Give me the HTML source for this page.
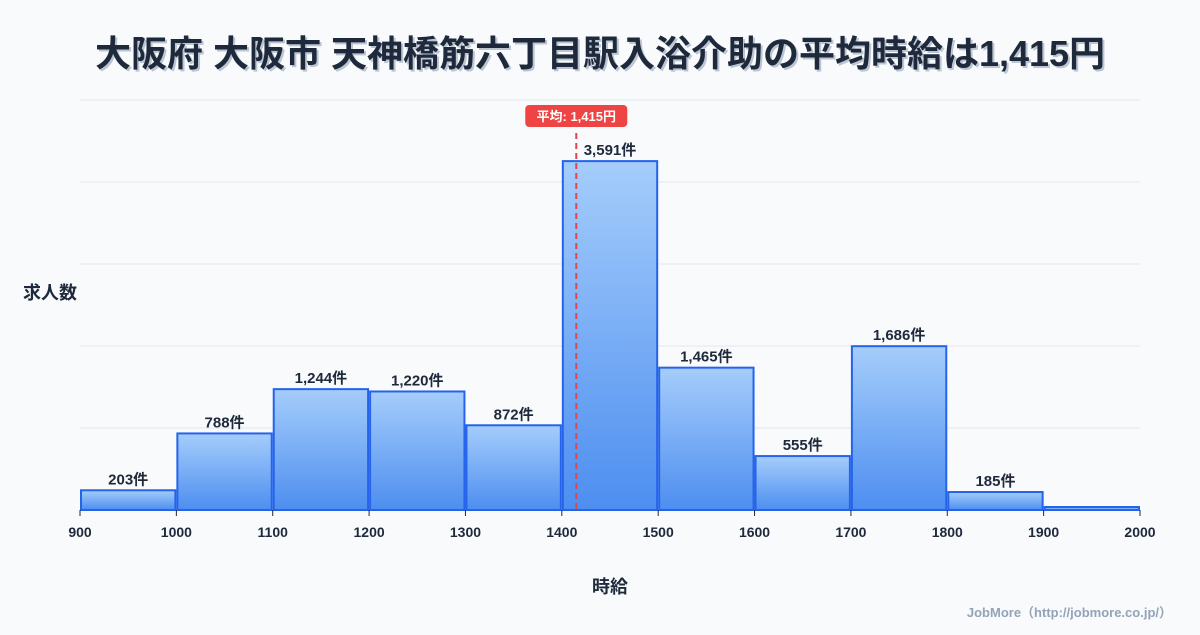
<!DOCTYPE html>
<html><head><meta charset="utf-8"><style>
body{margin:0;background:#f8fafc;font-family:"Liberation Sans","Noto Sans CJK JP",sans-serif;}
svg text{font-family:"Liberation Sans","Noto Sans CJK JP",sans-serif;}
</style></head><body>
<svg id="c" width="1200" height="630" viewBox="0 0 1200 630">
<defs><linearGradient id="g" x1="0" y1="0" x2="0" y2="1"><stop offset="0" stop-color="#a5cdfb"/><stop offset="1" stop-color="#4d8ef0"/></linearGradient></defs>
<rect width="1200" height="630" fill="#f8fafc"/>
<text x="602" y="68" text-anchor="middle" font-size="36" font-weight="bold" fill="#94a3b8" opacity="0.6">大阪府 大阪市 天神橋筋六丁目駅入浴介助の平均時給は1,415円</text>
<text x="600" y="66" text-anchor="middle" font-size="36" font-weight="bold" fill="#1e293b">大阪府 大阪市 天神橋筋六丁目駅入浴介助の平均時給は1,415円</text>
<g id="grid"></g><g id="bars"></g><g id="xt"></g>
<text x="50" y="299" text-anchor="middle" font-size="18" font-weight="bold" fill="#1e293b">求人数</text>
<text x="610" y="593" text-anchor="middle" font-size="18" font-weight="bold" fill="#1e293b">時給</text>
<text x="1172" y="617" text-anchor="end" font-size="13" font-weight="bold" fill="#94a3b8">JobMore（http://jobmore.co.jp/）</text>
</svg>
<script>
const binStarts=[900,1000,1100,1200,1300,1400,1500,1600,1700,1800,1900];
const counts=[203,788,1244,1220,872,3591,1465,555,1686,185,30];
const showLabel=[true,true,true,true,true,true,true,true,true,true,false];
const xTicks=[900,1000,1100,1200,1300,1400,1500,1600,1700,1800,1900,2000];
const avgValue=1415;
const NS="http://www.w3.org/2000/svg";
const X0=80,X1=1140,XMIN=900,XMAX=2000,Y0=510,Y1=100,YMAX=4220;
const xs=v=>X0+(v-XMIN)/(XMAX-XMIN)*(X1-X0);
const ys=v=>Y0-v/YMAX*(Y0-Y1);
function mk(t,a,p){const e=document.createElementNS(NS,t);for(const k in a)e.setAttribute(k,a[k]);p.appendChild(e);return e;}
const grid=document.getElementById('grid'),bars=document.getElementById('bars'),xt=document.getElementById('xt');
for(let i=0;i<=5;i++){const y=Y1+i*(Y0-Y1)/5;const l=mk('line',{x1:X0,x2:X1,y1:y,y2:y,stroke:'#e2e8f0','stroke-width':1},grid);

}
binStarts.forEach((b,i)=>{const x=xs(b)+1,w=xs(b+100)-xs(b)-2,y=Math.min(ys(counts[i]),Y0-3);
const r=mk('rect',{x:x,y:y,width:w,height:Y0-y,fill:'url(#g)',stroke:'#2563eb','stroke-width':2},bars);


if(showLabel[i]){const t=mk('text',{x:x+w/2,y:y-6,'text-anchor':'middle','font-size':15,'font-weight':'bold',fill:'#1e293b'},bars);t.textContent=counts[i].toLocaleString('en-US')+'件';

}});
xTicks.forEach(v=>{const x=xs(v);const l=mk('line',{x1:x,x2:x,y1:Y0,y2:Y0+6,stroke:'#1e293b'},xt);


const t=mk('text',{x:x,y:537,'text-anchor':'middle','font-size':14,'font-weight':'bold',fill:'#1e293b'},xt);t.textContent=v;

});
const svg=document.getElementById('c');const ax=xs(avgValue);
const dl=mk('line',{x1:ax,x2:ax,y1:133,y2:Y0,stroke:'#e0474c','stroke-width':2,'stroke-dasharray':'6,4'},svg);


const bx=mk('rect',{x:ax-51,y:105,width:102,height:22,rx:4,fill:'#ef4444'},svg);


const bt=mk('text',{x:ax,y:121,'text-anchor':'middle','font-size':13,'font-weight':'bold',fill:'#fff'},svg);bt.textContent='平均: 1,415円';


</script>
</body></html>
